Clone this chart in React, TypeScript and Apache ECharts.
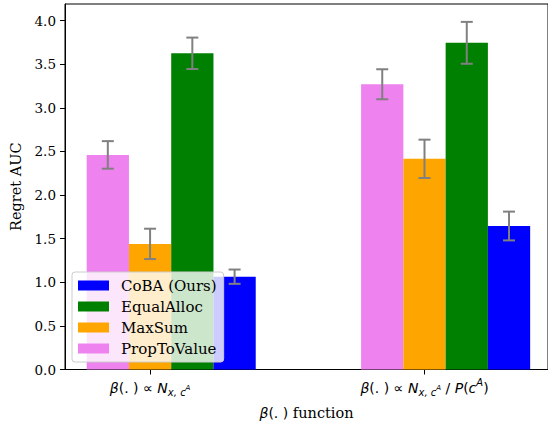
import React, { useEffect, useRef } from "react";
import * as echarts from "echarts";

// Group positions on the x value axis and their (rich-text) tick labels
const groupPositions = [0, 1];
const groupLabels = [
  "{i|β}{m|(. ) ∝ }{i|N}{s|x, c}{ss|A}",
  "{i|β}{m|(. ) ∝ }{i|N}{s|x, c}{ss|A}{m| / }{i|P}{m|(}{i|c}{sp|A}{m|)}",
];

// Series drawn left to right inside each group
const seriesNames = ["PropToValue", "MaxSum", "EqualAlloc", "CoBA (Ours)"];
const seriesColors = ["#EE82EE", "#FFA500", "#008000", "#0000FF"];
const seriesSlots = [-1, 0, 1, 2];

const propToValue = [2.46, 3.27];
const propToValueErr = [0.158, 0.172];
const maxSum = [1.44, 2.415];
const maxSumErr = [0.174, 0.22];
const equalAlloc = [3.625, 3.745];
const equalAllocErr = [0.18, 0.24];
const coba = [1.064, 1.645];
const cobaErr = [0.082, 0.165];

const seriesValues = [propToValue, maxSum, equalAlloc, coba];
const seriesErrors = [propToValueErr, maxSumErr, equalAllocErr, cobaErr];

const legendOrder = ["CoBA (Ours)", "EqualAlloc", "MaxSum", "PropToValue"];
const yTicks = [0, 0.5, 1, 1.5, 2, 2.5, 3, 3.5, 4];

const BAR_W = 0.154;
const CAP = 6;
const ERR_COLOR = "#808080";

const SERIF = "DejaVu Serif";
const SANS = "DejaVu Sans";

const labelRich = {
  i: { fontFamily: SANS, fontStyle: "italic", fontSize: 14, lineHeight: 20, color: "#000" },
  m: { fontFamily: SANS, fontSize: 14, lineHeight: 20, color: "#000" },
  s: { fontFamily: SANS, fontStyle: "italic", fontSize: 10, lineHeight: 11, verticalAlign: "bottom", color: "#000" },
  ss: { fontFamily: SANS, fontStyle: "italic", fontSize: 7, lineHeight: 8, color: "#000" },
  sp: { fontFamily: SANS, fontStyle: "italic", fontSize: 10, lineHeight: 10, verticalAlign: "top", color: "#000" },
  r: { fontFamily: SERIF, fontSize: 14.5, lineHeight: 20, color: "#000" },
};

const makeRenderItem = (slot: number) => (_params: any, api: any) => {
  const x = api.value(0);
  const y = api.value(1);
  const e = api.value(2);
  const cx = x + slot * BAR_W;
  const tl = api.coord([cx - BAR_W / 2, y]);
  const br = api.coord([cx + BAR_W / 2, 0]);
  const top = api.coord([cx, y + e]);
  const bot = api.coord([cx, y - e]);
  const errStyle = { stroke: ERR_COLOR, lineWidth: 2 };
  return {
    type: "group",
    children: [
      {
        type: "rect",
        shape: { x: tl[0], y: tl[1], width: br[0] - tl[0], height: br[1] - tl[1] },
        style: { fill: api.visual("color") },
      },
      { type: "line", shape: { x1: top[0], y1: top[1], x2: bot[0], y2: bot[1] }, style: errStyle },
      { type: "line", shape: { x1: top[0] - CAP, y1: top[1], x2: top[0] + CAP, y2: top[1] }, style: errStyle },
      { type: "line", shape: { x1: bot[0] - CAP, y1: bot[1], x2: bot[0] + CAP, y2: bot[1] }, style: errStyle },
    ],
  };
};

export default function App() {
  const ref = useRef<HTMLDivElement>(null);

  useEffect(() => {
    if (!ref.current) return;
    const chart = echarts.init(ref.current, undefined, { renderer: "svg" });

    const series = seriesNames.map((name, k) => ({
      type: "custom",
      name,
      color: seriesColors[k],
      itemStyle: { color: seriesColors[k] },
      encode: { x: 0, y: 1 },
      data: groupPositions.map((gx, g) => [gx, seriesValues[k][g], seriesErrors[k][g]]),
      renderItem: makeRenderItem(seriesSlots[k]),
      z: 2,
    }));

    chart.setOption({
      animation: false,
      backgroundColor: "#fff",
      grid: {
        left: 65,
        top: 4,
        bottom: 55,
        right: -4,
        show: true,
        borderColor: "#000",
        borderWidth: 1,
        backgroundColor: "transparent",
      },
      legend: {
        orient: "vertical",
        left: 72,
        top: 272,
        data: legendOrder.map((n) => ({ name: n, icon: "rect" })),
        itemWidth: 31,
        itemHeight: 10,
        itemGap: 6,
        padding: [6, 7, 6, 6],
        backgroundColor: "rgba(255,255,255,0.8)",
        borderColor: "#cccccc",
        borderWidth: 1,
        borderRadius: 3,
        selectedMode: false,
        textStyle: {
          fontFamily: SERIF,
          fontSize: 15,
          lineHeight: 15,
          color: "#000",
          padding: [0, 0, 0, 7],
        },
      },
      xAxis: {
        type: "value",
        min: -0.31,
        max: 1.45,
        name: "{i|β}{m|(. )}{r| function}",
        nameLocation: "middle",
        nameGap: 33,
        nameTextStyle: { rich: labelRich },
        splitLine: { show: false },
        axisLine: { show: true, onZero: false, lineStyle: { color: "#000", width: 1 } },
        axisTick: {
          show: true,
          length: 5,
          customValues: groupPositions,
          lineStyle: { color: "#000", width: 1 },
        },
        axisLabel: {
          customValues: groupPositions,
          margin: 8,
          formatter: (v: number) => groupLabels[groupPositions.indexOf(v)] ?? "",
          rich: labelRich,
        },
      },
      yAxis: {
        type: "value",
        min: 0,
        max: 4.19,
        name: "Regret AUC",
        nameLocation: "middle",
        nameGap: 42,
        nameTextStyle: { fontFamily: SERIF, fontSize: 14.5, color: "#000" },
        splitLine: { show: false },
        axisLine: { show: true, onZero: false, lineStyle: { color: "#000", width: 1 } },
        axisTick: {
          show: true,
          length: 5,
          customValues: yTicks,
          lineStyle: { color: "#000", width: 1 },
        },
        axisLabel: {
          customValues: yTicks,
          margin: 9,
          fontFamily: SERIF,
          fontSize: 13.5,
          color: "#000",
          formatter: (v: number) => v.toFixed(1),
        },
      },
      series,
    });

    return () => chart.dispose();
  }, []);

  return (
    <div
      ref={ref}
      style={{ position: "absolute", left: 0, top: 0, width: 548, height: 425 }}
    />
  );
}
